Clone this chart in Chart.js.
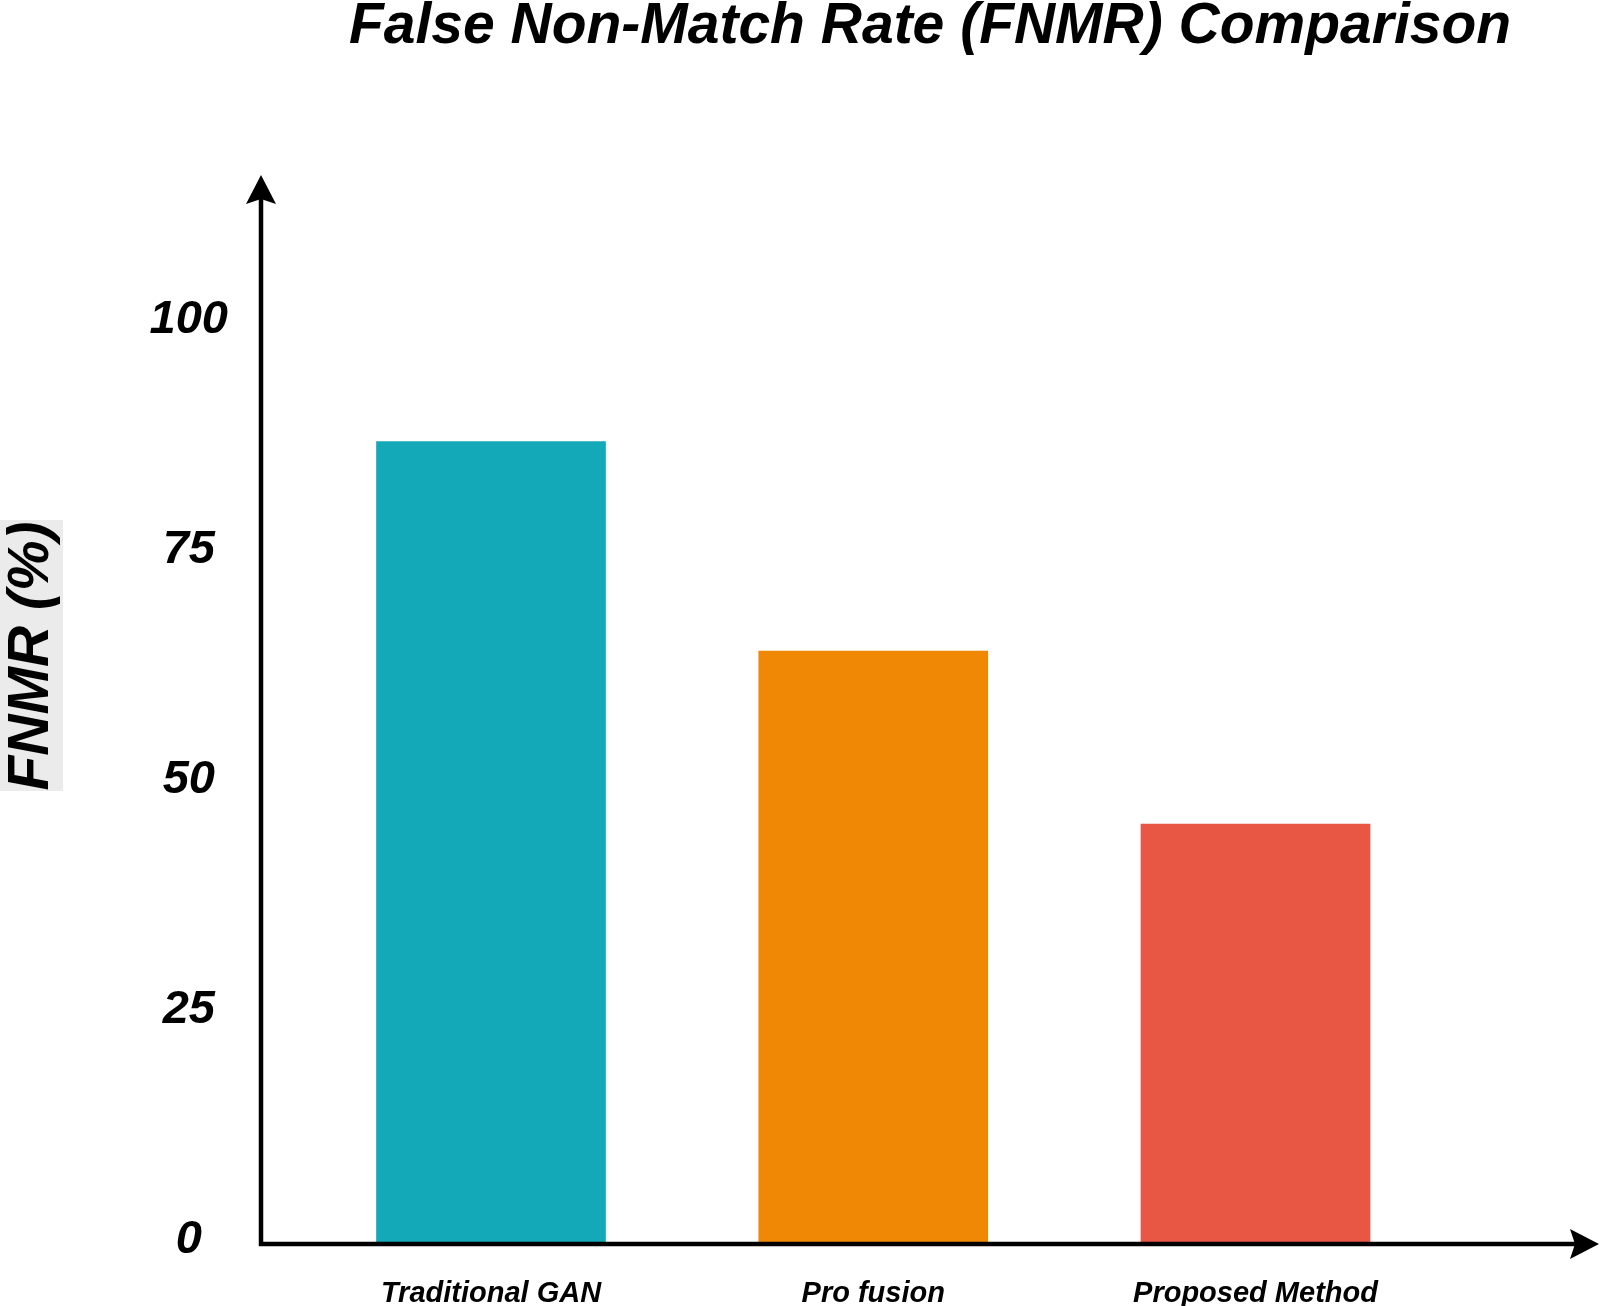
<!DOCTYPE html>
<html>
<head>
<meta charset="utf-8">
<script src="https://cdn.jsdelivr.net/npm/chart.js@4/dist/chart.umd.min.js"></script>
<style>
html, body { margin: 0; padding: 0; background: #ffffff; }
#wrap { width: 1600px; height: 1306px; position: relative; }
</style>
</head>
<body>
<div id="wrap"><canvas id="c" width="1600" height="1306"></canvas></div>
<script>
// ---- data ----
const categories = ["Traditional GAN", "Pro fusion", "Proposed Method"];
const fnmrValues = [86.8, 64.0, 45.2];
const barColors = ["#14A9B8", "#F08806", "#E85744"];
const yTickValues = [0, 25, 50, 75, 100];
const chartTitle = "False Non-Match Rate (FNMR) Comparison";
const yAxisTitle = "FNMR (%)";

// ---- layout / style constants ----
const FONT = "'Liberation Sans', Arial, Helvetica, sans-serif";
const Y_MIN = -0.47, Y_MAX = 115.78;
const X_MIN = -0.6017, X_MAX = 2.8986;

const axesArrows = {
  id: 'axesArrows',
  afterDatasetsDraw(chart) {
    const { ctx, chartArea: a } = chart;
    const lw = 4.5;
    ctx.save();
    ctx.strokeStyle = '#000';
    ctx.fillStyle = '#000';
    ctx.lineWidth = lw;
    ctx.lineCap = 'butt';
    const x0 = a.left, y0 = a.bottom;
    ctx.beginPath();
    ctx.moveTo(x0, y0 + lw / 2);
    ctx.lineTo(x0, a.top + 22);
    ctx.moveTo(x0 - lw / 2, y0);
    ctx.lineTo(a.right - 22, y0);
    ctx.stroke();
    // y arrow head
    ctx.beginPath();
    ctx.moveTo(x0, a.top);
    ctx.lineTo(x0 - 15, a.top + 29);
    ctx.lineTo(x0, a.top + 24);
    ctx.lineTo(x0 + 15, a.top + 29);
    ctx.closePath();
    ctx.fill();
    // x arrow head
    ctx.beginPath();
    ctx.moveTo(a.right, y0);
    ctx.lineTo(a.right - 29, y0 - 15);
    ctx.lineTo(a.right - 24, y0);
    ctx.lineTo(a.right - 29, y0 + 15);
    ctx.closePath();
    ctx.fill();
    ctx.restore();
  }
};

const yTitlePlugin = {
  id: 'yTitlePlugin',
  afterDraw(chart) {
    const { ctx } = chart;
    ctx.save();
    ctx.fillStyle = '#EBEBEB';
    ctx.fillRect(0, 520, 63, 271);
    ctx.translate(32, 656);
    ctx.rotate(-Math.PI / 2);
    ctx.fillStyle = '#000';
    ctx.font = "italic bold 57px " + FONT;
    ctx.textAlign = 'center';
    ctx.textBaseline = 'middle';
    ctx.fillText(yAxisTitle, 0, 0);
    ctx.restore();
  }
};

new Chart(document.getElementById('c'), {
  type: 'bar',
  data: {
    datasets: [{
      data: fnmrValues.map((v, i) => ({ x: i, y: v })),
      backgroundColor: barColors,
      borderWidth: 0,
      barThickness: 229,
      base: Y_MIN
    }]
  },
  options: {
    responsive: false,
    devicePixelRatio: 1,
    animation: false,
    layout: { padding: { top: 0, right: 1, bottom: 0, left: 0 } },
    plugins: {
      legend: { display: false },
      tooltip: { enabled: false },
      title: {
        display: true,
        text: chartTitle,
        fullSize: false,
        color: '#000',
        font: { family: FONT, size: 57, weight: 'bold', style: 'italic', lineHeight: 0.8 },
        padding: { top: 4, bottom: 125.4 }
      }
    },
    scales: {
      x: {
        type: 'linear',
        position: 'bottom',
        min: X_MIN,
        max: X_MAX,
        offset: false,
        grid: { display: false },
        border: { display: false },
        afterBuildTicks: (scale) => { scale.ticks = categories.map((_, i) => ({ value: i })); },
        afterFit: (scale) => { scale.height = 62; },
        ticks: {
          autoSkip: false,
          maxRotation: 0,
          minRotation: 0,
          padding: 25,
          color: '#000',
          font: { family: FONT, size: 29, weight: 'bold', style: 'italic', lineHeight: 1.2 },
          callback: (v) => categories[v] ?? ''
        }
      },
      y: {
        type: 'linear',
        min: Y_MIN,
        max: Y_MAX,
        grid: { display: false },
        border: { display: false },
        afterBuildTicks: (scale) => { scale.ticks = yTickValues.map(v => ({ value: v })); },
        afterFit: (scale) => { scale.width = 261; },
        ticks: {
          crossAlign: 'center',
          padding: 25,
          color: '#000',
          font: { family: FONT, size: 47, weight: 'bold', style: 'italic', lineHeight: 1 },
          callback: (v) => String(v)
        }
      }
    }
  },
  plugins: [axesArrows, yTitlePlugin]
});
</script>
</body>
</html>
